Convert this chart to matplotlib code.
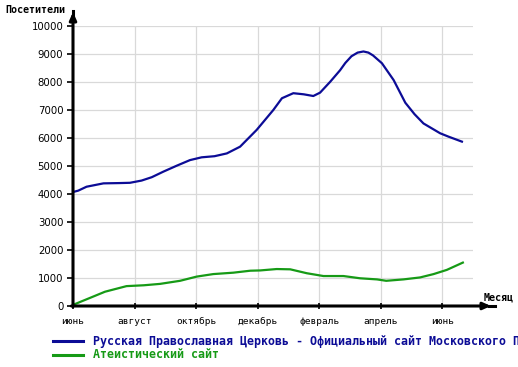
import matplotlib.pyplot as plt
from matplotlib.lines import Line2D

# months since June (0 = июнь)
church_x = [0.0, 0.17, 0.44, 0.99, 1.5, 1.85, 2.23, 2.56, 2.94, 3.37, 3.8, 4.18, 4.6, 5.0,
            5.43, 5.97, 6.51, 6.79, 7.16, 7.5, 7.81, 8.03, 8.36, 8.68, 8.85, 9.05, 9.25, 9.44,
            9.6, 9.75, 10.04, 10.42, 10.8, 11.1, 11.39, 11.93, 12.2, 12.64]
church_y = [4070, 4120, 4260, 4380, 4390, 4400, 4480, 4600, 4800, 5010, 5210, 5310, 5350, 5450,
            5690, 6290, 7000, 7420, 7600, 7560, 7500, 7620, 8010, 8420, 8680, 8920, 9050, 9090,
            9050, 8950, 8670, 8070, 7260, 6850, 6520, 6170, 6050, 5870]

atheist_x = [0.0, 1.04, 1.74, 2.3, 2.83, 3.48, 4.02, 4.56, 5.21, 5.76, 6.08, 6.62, 7.06, 7.6,
             8.14, 8.79, 9.33, 9.88, 10.18, 10.74, 11.28, 11.72, 12.15, 12.67]
atheist_y = [40, 510, 710, 740, 790, 900, 1050, 1140, 1190, 1260, 1270, 1320, 1310, 1170,
             1070, 1070, 990, 950, 900, 950, 1020, 1140, 1290, 1550]

series_names = ["Русская Православная Церковь - Официальный сайт Московского Патриархата",
                "Атеистический сайт"]
series_colors = ["#0c0c96", "#169a16"]

month_ticks = [0, 2, 4, 6, 8, 10, 12]
month_labels = ["июнь", "август", "октябрь", "декабрь", "февраль", "апрель", "июнь"]
y_ticks = list(range(0, 10001, 1000))

fig = plt.figure(figsize=(5.18, 3.67), dpi=100)
ax = fig.add_axes([73 / 518, 1 - 306 / 367, 400 / 518, 280 / 367])
ax.set_xlim(0, 13)
ax.set_ylim(0, 10000)

for s in ax.spines.values():
    s.set_visible(False)

# grid
for yv in y_ticks[1:]:
    ax.axhline(yv, color="#d9d9d9", lw=0.9, zorder=0)
for xv in month_ticks[1:]:
    ax.axvline(xv, color="#d9d9d9", lw=0.9, zorder=0)

ax.plot(church_x, church_y, color=series_colors[0], lw=1.6, zorder=3)
ax.plot(atheist_x, atheist_y, color=series_colors[1], lw=1.6, zorder=3)

ax.set_xticks(month_ticks)
ax.set_xticklabels(month_labels, family="DejaVu Sans Mono", fontsize=6.8)
ax.set_yticks(y_ticks)
ax.set_yticklabels([str(v) for v in y_ticks], fontsize=7.3)
ax.tick_params(axis="x", length=4, width=1.2, pad=6, direction="inout")
ax.tick_params(axis="y", length=4, width=1.2, pad=3, direction="out")

# axis lines with small arrows
arrow = dict(arrowstyle="-|>,head_length=0.45,head_width=0.2", color="black",
             lw=2.2, shrinkA=0, shrinkB=0)
ax.annotate("", xy=(0, 1.05), xytext=(0, -0.002), xycoords="axes fraction",
            arrowprops=arrow, annotation_clip=False)
ax.annotate("", xy=(1.045, 0), xytext=(-0.004, 0), xycoords="axes fraction",
            arrowprops=arrow, annotation_clip=False)
ax.plot([0, 0], [1.04, 1.055], transform=ax.transAxes, color="black", lw=2.2, clip_on=False)
ax.plot([1.04, 1.055], [0, 0], transform=ax.transAxes, color="black", lw=2.2, clip_on=False)

fig.text(5 / 518, 1 - 10 / 367, "Посетители", family="DejaVu Sans Mono", weight="bold",
         fontsize=7.2, va="center", ha="left")
fig.text(484 / 518, 1 - 298 / 367, "Месяц", family="DejaVu Sans Mono", weight="bold",
         fontsize=7.2, va="center", ha="left")

# legend
for i, (name, col) in enumerate(zip(series_names, series_colors)):
    yy = 1 - (341 + 14 * i) / 367
    fig.add_artist(Line2D([53 / 518, 83 / 518], [yy, yy], color=col, lw=2.2))
    fig.text(93 / 518, yy, name, color=col, family="DejaVu Sans Mono", weight="bold",
             fontsize=8.4, va="center", ha="left")

fig.savefig("out.png", dpi=100)
